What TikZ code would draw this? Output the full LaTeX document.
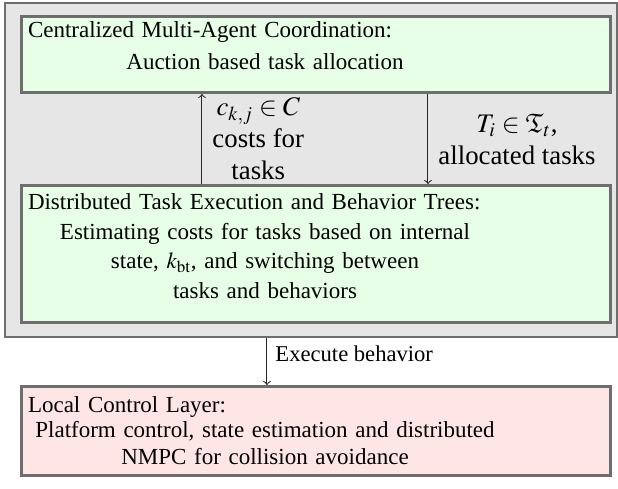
\documentclass[tikz,border=0pt]{standalone}
\usepackage{mathptmx}
\usepackage{amssymb}
\usepackage[no-math]{fontspec}
\setmainfont{Liberation Serif}
\definecolor{bordergray}{RGB}{110,110,110}
\definecolor{bggray}{RGB}{230,230,230}
\definecolor{greenfill}{RGB}{230,255,230}
\definecolor{pinkfill}{RGB}{255,230,230}
\tikzset{
  layerbox/.style={draw=bordergray, line width=1.5pt, anchor=north west,
    inner xsep=3.25pt, inner ysep=0pt, text width=288pt, align=left},
  greenbox/.style={layerbox, fill=greenfill},
  pinkbox/.style={layerbox, fill=pinkfill},
  flow/.style={->, line width=0.5pt, draw=black!85},
  flowlabel/.style={font=\rmfamily\fontsize{13.4}{16}\selectfont, align=center, inner sep=0pt},
}
\newcommand{\ctrline}[1]{\makebox[237pt]{#1}}
\begin{document}
\begin{tikzpicture}[x=0.5pt,y=-0.5pt]
\useasboundingbox (0,0) rectangle (618,489);
\node[draw=bordergray, fill=bggray, line width=1pt, anchor=north west,
  minimum width=306pt, minimum height=167pt, inner sep=0pt] (outer) at (4,2) {};
\node[greenbox, font=\rmfamily\fontsize{11.5}{16}\selectfont] (coord) at (20,15)
  {\rule{0pt}{10.5pt}Centralized Multi-Agent Coordination:\\
   \ctrline{Auction based task allocation}\rule[-11.5pt]{0pt}{11.5pt}};
\node[greenbox, font=\rmfamily\fontsize{11.5}{14.8}\selectfont] (mid) at (20,184)
  {\rule{0pt}{12pt}Distributed Task Execution and Behavior Trees:\\
   \ctrline{Estimating costs for tasks based on internal}\\
   \ctrline{state, $k_{\mathrm{bt}}$, and switching between}\\
   \ctrline{tasks and behaviors}\rule[-12pt]{0pt}{12pt}};
\node[pinkbox, font=\rmfamily\fontsize{11.5}{12.5}\selectfont] (bot) at (20,385)
  {\rule{0pt}{13pt}Local Control Layer:\\
   \ctrline{Platform control, state estimation and distributed}\\[1pt]
   \ctrline{NMPC for collision avoidance}\rule[-5.5pt]{0pt}{5.5pt}};
\coordinate (upx) at (202,0);
\coordinate (dnx) at (428,0);
\coordinate (exx) at (267,0);
\draw[flow] (upx |- mid.north) -- (upx |- coord.south)
  node[flowlabel, midway, right=5pt] (costlbl) {$c_{k,j}\in C$\\ costs for\\ tasks};
\draw[flow] (dnx |- coord.south) -- (dnx |- mid.north)
  node[flowlabel, midway, right=5pt] (alloclbl) {$T_i\in\mathfrak{T}_t$,\\ allocated tasks};
\draw[flow] (exx |- outer.south) -- (exx |- bot.north)
  node[midway, right=4pt, yshift=3.75pt, inner sep=0pt, font=\rmfamily\fontsize{11.3}{13}\selectfont] (execlbl) {Execute behavior};
\end{tikzpicture}
\end{document}
